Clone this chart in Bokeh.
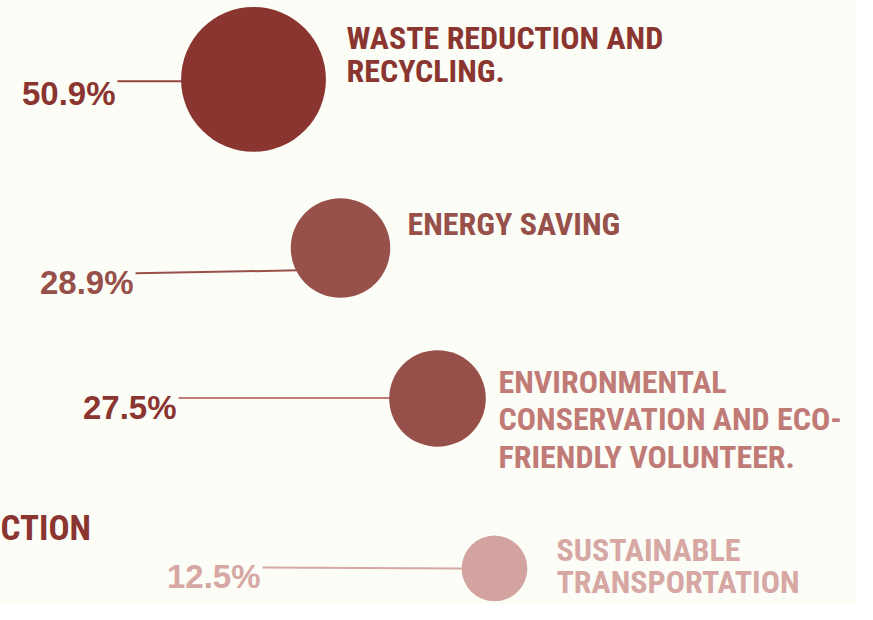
import math
from bokeh.plotting import figure
from bokeh.models import Range1d
from bokeh.core.properties import value
from bokeh.embed import file_html
from bokeh.resources import INLINE

# ---------------- data ----------------
categories = [
    "WASTE REDUCTION AND\nRECYCLING.",
    "ENERGY SAVING",
    "ENVIRONMENTAL\nCONSERVATION AND ECO-\nFRIENDLY VOLUNTEER.",
    "SUSTAINABLE\nTRANSPORTATION",
]
percentages = [50.9, 28.9, 27.5, 12.5]
pct_labels = ["50.9%", "28.9%", "27.5%", "12.5%"]
side_title = "CTION"

# ---------------- styles ----------------
BG = "#FCFDF7"
circle_colors = ["#8A3530", "#97504A", "#964F49", "#D3A3A0"]
label_colors = ["#8B3530", "#97504A", "#C07B77", "#D6A7A3"]
pct_colors = ["#8B3530", "#97504A", "#8B3530", "#D6A7A3"]
lead_colors = ["#94443F", "#97504A", "#C07B77", "#D6A7A3"]
LABEL_FONT = "Roboto Condensed"
PCT_FONT = "Liberation Sans"

# ---------------- layout (reference pixel coordinates) ----------------
circle_x = [253, 340, 437, 494]
circle_y = [81, 254, 408.5, 583]
label_x = [346, 407, 498, 556]
label_baseline = [38, 229, 391.5, 564]
label_spacing = [34, 0, 38.5, 32.7]
pct_right = [115, 133, 176, 260]
pct_baseline = [95, 289, 418, 591]
lead_start_y = [83, 280, 408, 582]
lead_end_y = [83, 277, 408, 583]


def radius_of(v):
    # linear size scale
    return 20 + 1.03 * v


radii = [radius_of(v) for v in percentages]

p = figure(
    width=857, height=604,
    x_range=Range1d(0, 857), y_range=Range1d(620, 0),
    output_backend="svg", toolbar_location=None,
    min_border=0, background_fill_color=BG, border_fill_color=BG,
)
p.outline_line_color = None
p.axis.visible = False
p.grid.visible = False

# leader lines
x0 = [r + 2 for r in pct_right]
x1 = []
for cx, cy, r, ey in zip(circle_x, circle_y, radii, lead_end_y):
    dy = ey - cy
    x1.append(cx - math.sqrt(max(r * r - dy * dy, 0)) + 2)
p.segment(x0=x0, y0=lead_start_y, x1=x1, y1=lead_end_y,
          line_color=lead_colors, line_width=2)

# circles
p.circle(x=circle_x, y=circle_y, radius=radii, fill_color=circle_colors,
         line_color=None)

# percentage labels
p.text(x=pct_right, y=pct_baseline, text=pct_labels, text_color=pct_colors,
       text_font=value(PCT_FONT), text_font_style="bold",
       text_font_size="33px", text_align="right", text_baseline="alphabetic")

# category labels (one text per line)
lx, ly, lt, lc = [], [], [], []
for cat, x, b, s, c in zip(categories, label_x, label_baseline, label_spacing, label_colors):
    for i, line in enumerate(cat.split("\n")):
        lx.append(x)
        ly.append(b + i * s)
        lt.append(line)
        lc.append(c)
p.text(x=lx, y=ly, text=lt, text_color=lc,
       text_font=value(LABEL_FONT), text_font_style="bold",
       text_font_size="32px", text_align="left", text_baseline="alphabetic")

# cut-off side title
p.text(x=[0], y=[542], text=[side_title], text_color="#8B3530",
       text_font=value(LABEL_FONT), text_font_style="bold",
       text_font_size="35px", text_align="left", text_baseline="alphabetic")

open("out.html", "w").write(file_html(p, INLINE))
